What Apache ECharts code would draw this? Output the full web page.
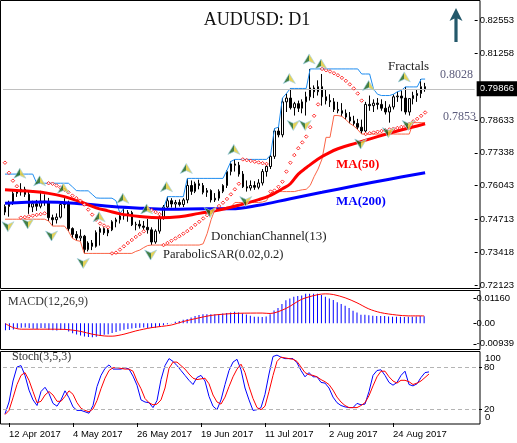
<!DOCTYPE html>
<html><head><meta charset="utf-8">
<script src="https://cdn.jsdelivr.net/npm/echarts@6/dist/echarts.min.js"></script>
<style>html,body{margin:0;padding:0;background:#fff}#c{width:517px;height:443px}</style>
</head><body><div id="c"></div>
<script>
const dates = ['11 Apr 2017','12 Apr 2017','13 Apr 2017','14 Apr 2017','17 Apr 2017','18 Apr 2017','19 Apr 2017','20 Apr 2017','21 Apr 2017','24 Apr 2017','25 Apr 2017','26 Apr 2017','27 Apr 2017','28 Apr 2017',
'1 May 2017','2 May 2017','3 May 2017','4 May 2017','5 May 2017','8 May 2017','9 May 2017','10 May 2017','11 May 2017','12 May 2017','15 May 2017','16 May 2017','17 May 2017','18 May 2017','19 May 2017','22 May 2017','23 May 2017','24 May 2017','25 May 2017','26 May 2017','29 May 2017','30 May 2017','31 May 2017',
'1 Jun 2017','2 Jun 2017','5 Jun 2017','6 Jun 2017','7 Jun 2017','8 Jun 2017','9 Jun 2017','12 Jun 2017','13 Jun 2017','14 Jun 2017','15 Jun 2017','16 Jun 2017','19 Jun 2017','20 Jun 2017','21 Jun 2017','22 Jun 2017','23 Jun 2017','26 Jun 2017','27 Jun 2017','28 Jun 2017','29 Jun 2017','30 Jun 2017',
'3 Jul 2017','4 Jul 2017','5 Jul 2017','6 Jul 2017','7 Jul 2017','10 Jul 2017','11 Jul 2017','12 Jul 2017','13 Jul 2017','14 Jul 2017','17 Jul 2017','18 Jul 2017','19 Jul 2017','20 Jul 2017','21 Jul 2017','24 Jul 2017','25 Jul 2017','26 Jul 2017','27 Jul 2017','28 Jul 2017','31 Jul 2017',
'1 Aug 2017','2 Aug 2017','3 Aug 2017','4 Aug 2017','7 Aug 2017','8 Aug 2017','9 Aug 2017','10 Aug 2017','11 Aug 2017','14 Aug 2017','15 Aug 2017','16 Aug 2017','17 Aug 2017','18 Aug 2017','21 Aug 2017','22 Aug 2017','23 Aug 2017','24 Aug 2017','25 Aug 2017','28 Aug 2017','29 Aug 2017','30 Aug 2017','31 Aug 2017',
'1 Sep 2017','4 Sep 2017','5 Sep 2017','6 Sep 2017'];
const tickLabels = ['12 Apr 2017','4 May 2017','26 May 2017','19 Jun 2017','11 Jul 2017','2 Aug 2017','24 Aug 2017'];

const opens = [0.7500,0.7522,0.7535,0.7574,0.7580,0.7590,0.7570,0.7520,0.7533,0.7523,
0.7543,0.7540,0.7478,0.7470,0.7480,0.7530,0.7536,0.7435,0.7412,0.7398,
0.7405,0.7352,0.7378,0.7365,0.7420,0.7435,0.7418,0.7430,0.7462,0.7470,
0.7485,0.7490,0.7498,0.7450,0.7452,0.7445,0.7440,0.7430,0.7382,0.7425,
0.7480,0.7520,0.7545,0.7532,0.7538,0.7530,0.7548,0.7605,0.7582,0.7612,
0.7605,0.7578,0.7585,0.7548,0.7555,0.7582,0.7605,0.7660,0.7690,0.7685,
0.7650,0.7600,0.7595,0.7605,0.7598,0.7615,0.7660,0.7680,0.7720,0.7820,
0.7805,0.7935,0.7950,0.7912,0.7928,0.7910,0.7935,0.7955,0.7990,0.7975,
0.7995,0.7955,0.7940,0.7935,0.7905,0.7900,0.7890,0.7875,0.7860,0.7850,
0.7835,0.7820,0.7925,0.7920,0.7930,0.7925,0.7910,0.7895,0.7915,0.7955,
0.7958,0.7950,0.7895,0.7948,0.7960,0.7968,0.7995];
const highs = [0.7530,0.7545,0.7582,0.7590,0.7614,0.7600,0.7585,0.7545,0.7548,0.7584,
0.7570,0.7556,0.7490,0.7495,0.7540,0.7555,0.7545,0.7440,0.7425,0.7432,
0.7410,0.7385,0.7390,0.7428,0.7442,0.7440,0.7438,0.7468,0.7478,0.7495,
0.7515,0.7508,0.7505,0.7462,0.7468,0.7465,0.7473,0.7440,0.7432,0.7488,
0.7528,0.7561,0.7555,0.7548,0.7550,0.7555,0.7633,0.7625,0.7620,0.7628,
0.7615,0.7595,0.7590,0.7575,0.7590,0.7610,0.7665,0.7700,0.7708,0.7698,
0.7662,0.7625,0.7625,0.7622,0.7630,0.7670,0.7688,0.7725,0.7830,0.7835,
0.7950,0.7968,0.7988,0.7935,0.7940,0.7945,0.7975,0.8065,0.8000,0.8020,
0.8045,0.7985,0.7965,0.7950,0.7935,0.7930,0.7905,0.7895,0.7880,0.7868,
0.7865,0.7935,0.7960,0.7945,0.7950,0.7945,0.7938,0.7925,0.7965,0.7975,
0.7980,0.7994,0.7950,0.7975,0.7985,0.8025,0.8010];
const lows = [0.7488,0.7482,0.7528,0.7560,0.7565,0.7560,0.7493,0.7500,0.7505,0.7515,
0.7525,0.7465,0.7445,0.7455,0.7475,0.7515,0.7425,0.7397,0.7388,0.7385,
0.7337,0.7345,0.7350,0.7360,0.7368,0.7410,0.7405,0.7425,0.7440,0.7455,
0.7470,0.7462,0.7445,0.7428,0.7435,0.7430,0.7415,0.7370,0.7375,0.7415,
0.7470,0.7512,0.7518,0.7515,0.7522,0.7520,0.7535,0.7568,0.7575,0.7590,
0.7570,0.7560,0.7538,0.7540,0.7545,0.7575,0.7595,0.7645,0.7660,0.7640,
0.7595,0.7581,0.7585,0.7588,0.7590,0.7605,0.7640,0.7670,0.7710,0.7795,
0.7795,0.7895,0.7905,0.7881,0.7895,0.7890,0.7881,0.7940,0.7950,0.7960,
0.7920,0.7925,0.7915,0.7895,0.7890,0.7878,0.7865,0.7850,0.7840,0.7825,
0.7808,0.7815,0.7900,0.7895,0.7905,0.7900,0.7885,0.7853,0.7905,0.7935,
0.7898,0.7885,0.7881,0.7925,0.7935,0.7950,0.7975];
const closes = [0.7522,0.7535,0.7574,0.7580,0.7590,0.7570,0.7520,0.7533,0.7523,0.7543,
0.7540,0.7478,0.7470,0.7480,0.7530,0.7536,0.7435,0.7412,0.7398,0.7405,
0.7352,0.7378,0.7365,0.7420,0.7435,0.7418,0.7430,0.7462,0.7470,0.7485,
0.7490,0.7498,0.7450,0.7452,0.7445,0.7440,0.7430,0.7382,0.7425,0.7480,
0.7520,0.7545,0.7532,0.7538,0.7530,0.7548,0.7605,0.7582,0.7612,0.7605,
0.7578,0.7585,0.7548,0.7555,0.7582,0.7605,0.7660,0.7690,0.7685,0.7650,
0.7600,0.7595,0.7605,0.7598,0.7615,0.7660,0.7680,0.7720,0.7820,0.7805,
0.7935,0.7950,0.7912,0.7928,0.7910,0.7935,0.7955,0.7990,0.7975,0.7995,
0.7955,0.7940,0.7935,0.7905,0.7900,0.7890,0.7875,0.7860,0.7850,0.7835,
0.7820,0.7925,0.7920,0.7930,0.7925,0.7910,0.7895,0.7915,0.7955,0.7958,
0.7950,0.7895,0.7948,0.7960,0.7968,0.7995,0.79866];

// [bar index, value] points
const ma50 = [[0,0.7588],[7,0.7581],[11,0.7574],[15,0.7561],[19,0.7541],[23,0.7517],[26,0.7505],[29,0.7493],[34,0.7483],[39,0.7478],[44,0.7482],[49,0.7495],[54,0.7508],[59,0.7527],[64,0.7549],[67,0.7566],[70,0.7592],[72,0.7612],[74,0.7650],[76,0.7675],[79,0.7710],[81,0.7728],[84,0.7750],[89,0.7774],[94,0.7798],[99,0.7820],[104,0.7840],[106,0.7848]];
const ma200 = [[0,0.7535],[10,0.7540],[20,0.7532],[27,0.7522],[35,0.7515],[42,0.7511],[50,0.7513],[57,0.7513],[64,0.7527],[72,0.7553],[80,0.7578],[88,0.7603],[97,0.7630],[106,0.7655]];

const donchianUp = [0.7650,0.7650,0.7650,0.7650,0.7650,0.7650,0.7650,0.7650,0.7614,0.7614,
0.7614,0.7614,0.7614,0.7614,0.7614,0.7614,0.7614,0.7600,0.7585,0.7584,
0.7584,0.7584,0.7570,0.7556,0.7555,0.7555,0.7555,0.7555,0.7545,0.7495,
0.7515,0.7515,0.7515,0.7515,0.7515,0.7515,0.7515,0.7515,0.7515,0.7515,
0.7515,0.7561,0.7561,0.7561,0.7561,0.7561,0.7633,0.7633,0.7633,0.7633,
0.7633,0.7633,0.7633,0.7633,0.7633,0.7633,0.7665,0.7700,0.7708,0.7708,
0.7708,0.7708,0.7708,0.7708,0.7708,0.7708,0.7708,0.7725,0.7830,0.7835,
0.7950,0.7968,0.7988,0.7988,0.7988,0.7988,0.7988,0.8065,0.8065,0.8065,
0.8065,0.8065,0.8065,0.8065,0.8065,0.8065,0.8065,0.8065,0.8065,0.8065,
0.8045,0.8045,0.8045,0.7985,0.7965,0.7960,0.7960,0.7960,0.7965,0.7975,
0.7980,0.7994,0.7994,0.7994,0.7994,0.8025,0.8025];
const donchianLow = [0.7472,0.7472,0.7472,0.7472,0.7472,0.7472,0.7472,0.7472,0.7472,0.7472,
0.7472,0.7465,0.7445,0.7445,0.7445,0.7445,0.7425,0.7397,0.7388,0.7385,
0.7337,0.7337,0.7337,0.7337,0.7337,0.7337,0.7337,0.7337,0.7337,0.7337,
0.7337,0.7337,0.7337,0.7345,0.7350,0.7360,0.7368,0.7370,0.7370,0.7370,
0.7370,0.7370,0.7370,0.7370,0.7370,0.7370,0.7370,0.7370,0.7370,0.7370,
0.7375,0.7415,0.7470,0.7512,0.7515,0.7515,0.7520,0.7520,0.7538,0.7538,
0.7538,0.7538,0.7538,0.7538,0.7538,0.7540,0.7545,0.7575,0.7581,0.7581,
0.7581,0.7581,0.7581,0.7581,0.7585,0.7588,0.7590,0.7605,0.7640,0.7670,
0.7710,0.7795,0.7795,0.7881,0.7881,0.7878,0.7865,0.7850,0.7840,0.7825,
0.7808,0.7808,0.7808,0.7808,0.7808,0.7808,0.7808,0.7808,0.7808,0.7808,
0.7808,0.7808,0.7808,0.7853,0.7853,0.7853,0.7853];
const sar = [0.7695,0.7655,0.7624,0.7602,0.7478,0.7480,0.7483,0.7486,0.7489,0.7492,
0.7495,0.7614,0.7612,0.7605,0.7597,0.7588,0.7578,0.7565,0.7555,0.7545,
0.7530,0.7510,0.7490,0.7470,0.7455,0.7447,0.7440,0.7337,0.7340,0.7352,
0.7365,0.7378,0.7390,0.7402,0.7413,0.7424,0.7515,0.7508,0.7500,0.7492,
0.7370,0.7378,0.7387,0.7396,0.7405,0.7415,0.7425,0.7437,0.7450,0.7462,
0.7475,0.7488,0.7500,0.7512,0.7524,0.7537,0.7552,0.7570,0.7590,0.7612,
0.7708,0.7705,0.7702,0.7699,0.7696,0.7693,0.7690,0.7581,0.7585,0.7600,
0.7620,0.7660,0.7695,0.7725,0.7752,0.7775,0.7798,0.7835,0.7880,0.7925,
0.8065,0.8060,0.8055,0.8048,0.8040,0.8030,0.8018,0.8004,0.7988,0.7968,
0.7940,0.7808,0.7811,0.7814,0.7817,0.7820,0.7823,0.7826,0.7829,0.7832,
0.7836,0.7840,0.7848,0.7858,0.7868,0.7880,0.7893];
const fractalsUp = [[4,0.7614],[9,0.7584],[15,0.7555],[24,0.7442],[30,0.7515],[36,0.7473],[41,0.7561],[46,0.7633],[58,0.7708],[72,0.7988],[77,0.8065],[80,0.8045],[92,0.7960],[101,0.7994]];
const fractalsDown = [[1,0.7482],[6,0.7493],[12,0.7445],[20,0.7337],[37,0.7370],[52,0.7538],[61,0.7581],[73,0.7881],[76,0.7881],[90,0.7808],[97,0.7853],[102,0.7881]];

const macdMain = [-0.0032,-0.0031,-0.0028,-0.0024,-0.0020,-0.0019,-0.0022,-0.0025,-0.0026,-0.0022,
-0.0023,-0.0029,-0.0032,-0.0033,-0.0031,-0.0030,-0.0038,-0.0046,-0.0051,-0.0056,
-0.0061,-0.0063,-0.0064,-0.0062,-0.0058,-0.0053,-0.0050,-0.0045,-0.0040,-0.0034,
-0.0029,-0.0026,-0.0024,-0.0022,-0.0020,-0.0019,-0.0021,-0.0022,-0.0020,-0.0015,
-0.0009,-0.0004,0.0001,0.0007,0.0011,0.0016,0.0020,0.0027,0.0033,0.0038,
0.0041,0.0042,0.0042,0.0042,0.0043,0.0045,0.0047,0.0050,0.0053,0.0050,
0.0045,0.0040,0.0035,0.0030,0.0030,0.0029,0.0031,0.0042,0.0059,0.0070,
0.0088,0.0106,0.0114,0.0122,0.0125,0.0127,0.0135,0.0136,0.0135,0.0135,
0.0130,0.0122,0.0114,0.0107,0.0096,0.0088,0.0080,0.0070,0.0057,0.0049,
0.0039,0.0039,0.0037,0.0035,0.0034,0.0033,0.0033,0.0031,0.0030,0.0030,
0.0030,0.0029,0.0030,0.0030,0.0031,0.0033,0.0032];
const macdSignal = [[0,-0.0002],[2,-0.0020],[4,-0.0027],[10,-0.0027],[15,-0.0028],[19,-0.0037],[22,-0.0050],[25,-0.0058],[27,-0.0059],[30,-0.0050],[33,-0.0035],[37,-0.0020],[42,-0.0008],[45,0.0008],[49,0.0025],[52,0.0036],[56,0.0043],[59,0.0046],[65,0.0047],[67,0.0045],[71,0.0068],[75,0.0110],[79,0.0131],[81,0.0135],[83,0.0132],[86,0.0117],[89,0.0094],[92,0.0066],[95,0.0049],[99,0.0038],[102,0.0034],[106,0.0034]];
const stochK = [13,30,60,80,82,68,47,33,25,45,51,42,28,24,33,46,36,23,18,18,
16,14,25,52,68,78,83,77,77,77,79,77,67,54,33,30,29,22,32,62,
82,92,88,82,75,68,61,55,65,68,60,38,24,19,33,55,75,87,91,76,
50,33,18,19,22,41,70,95,97,94,92,92,92,86,75,66,72,66,66,58,
57,50,37,29,25,23,22,22,28,26,27,45,68,75,76,68,58,54,58,68,
74,55,53,56,65,72,73];
const stochD = [12,18,36,55,68,72,61,45,29,31,40,45,40,31,31,38,46,41,29,21,
18,16,20,32,49,64,75,79,79,78,77,77,74,60,49,35,29,26,27,33,
50,78,87,87,82,77,70,64,62,63,64,56,40,30,27,37,52,66,77,84,
72,52,35,22,19,24,45,68,88,94,93,92,91,88,80,72,69,68,66,62,
59,55,47,37,30,25,22,22,22,25,29,39,53,66,74,74,66,60,57,61,
61,59,55,57,60,65,70];
const priceTicks = [0.82553,0.81258,0.78633,0.77338,0.76043,0.74713,0.73418,0.72123];
const macdTicks = [0.0116,0,-0.00939];
const stochTicks = [20,80];
const stochEdgeLabels = ['100','0'];
const lastClose = closes[closes.length - 1];

const SLOTS = 119; // bars plus right-hand empty shift
const cats = dates.slice();
for (let k = dates.length; k < SLOTS; k++) cats.push('_' + k);
const candles = dates.map((d, i) => [opens[i], closes[i], lows[i], highs[i]]);

const SANS = 'Liberation Sans';
const isTick = (idx, val) => tickLabels.indexOf(val) >= 0;
const gL = 3, gW = 476;
const fracGrad = {type:'linear',x:0,y:0,x2:1,y2:0,colorStops:[{offset:0,color:'#176017'},{offset:0.5,color:'#176017'},{offset:0.5,color:'#e0c830'},{offset:1,color:'#e0c830'}]};

function xAx(gi, show) {
  return {type:'category', gridIndex:gi, data:cats, boundaryGap:true,
    axisLine:{show:false},
    axisTick:{show:show, interval:isTick, alignWithLabel:true, length:4, lineStyle:{color:'#000'}},
    axisLabel:{show:show, interval:isTick, formatter:v=>v, align:'left', color:'#000', fontSize:9.5, fontFamily:SANS, margin:6},
    splitLine:{show:false}};
}

const option = {
  animation:false,
  grid:[
    {left:gL, width:gW, top:1, height:287},
    {left:gL + 0.5, width:gW, top:291, height:58},
    {left:gL, width:gW, top:353, height:70}
  ],
  xAxis:[xAx(0,false), xAx(1,false), xAx(2,true)],
  yAxis:[
    {type:'value', gridIndex:0, position:'right', min:0.720054, max:0.833304,
      axisLine:{show:false}, splitLine:{show:false},
      axisTick:{show:true, customValues:priceTicks, length:3, lineStyle:{color:'#000'}},
      axisLabel:{customValues:priceTicks, formatter:v=>v.toFixed(5), color:'#000', fontSize:9.5, fontFamily:SANS, margin:5}},
    {type:'value', gridIndex:1, position:'right', min:-0.011783, max:0.014810,
      axisLine:{show:false}, splitLine:{show:false},
      axisTick:{show:true, customValues:macdTicks, length:3, lineStyle:{color:'#000'}},
      axisLabel:{customValues:macdTicks, formatter:v=>v===0?'0.00':v.toFixed(5), color:'#000', fontSize:9.5, fontFamily:SANS, margin:3}},
    {type:'value', gridIndex:2, position:'right', min:0, max:100,
      axisLine:{show:false}, splitLine:{show:false},
      axisTick:{show:true, customValues:stochTicks, length:3, lineStyle:{color:'#000'}},
      axisLabel:{customValues:stochTicks, color:'#000', fontSize:9.5, fontFamily:SANS, margin:5}}
  ],
  series:[
    {type:'candlestick', name:'AUDUSD', xAxisIndex:0, yAxisIndex:0, data:candles, barWidth:2, z:2,
      itemStyle:{color:'#fff', color0:'#000', borderColor:'#000', borderColor0:'#000', borderColorDoji:'#000', borderWidth:1},
      markLine:{symbol:['none','none'], silent:true, animation:false, precision:5,
        data:[{yAxis: lastClose}],
        lineStyle:{color:'#c0c0c0', width:1, type:'solid'},
        label:{show:true, position:'end', formatter:()=>lastClose.toFixed(5), backgroundColor:'#000', color:'#fff', fontSize:9.5, fontFamily:SANS, padding:[3,4,2,3], distance:2}}},
    {type:'line', name:'Donchian upper', data:donchianUp, showSymbol:false, silent:true, z:3, lineStyle:{color:'#1e8cf0', width:1}},
    {type:'line', name:'Donchian lower', data:donchianLow, showSymbol:false, silent:true, z:3, lineStyle:{color:'#fa6446', width:1}},
    {type:'line', name:'MA(200)', data:ma200, smooth:0.4, showSymbol:false, silent:true, z:4, lineStyle:{color:'#0000ff', width:3}},
    {type:'line', name:'MA(50)', data:ma50, smooth:0.4, showSymbol:false, silent:true, z:4, lineStyle:{color:'#ff0000', width:3}},
    {type:'scatter', name:'SAR', data:sar, symbol:'diamond', symbolSize:3.5, silent:true, z:5,
      itemStyle:{color:'#ffffff', borderColor:'#ff0000', borderWidth:1}},
    {type:'scatter', name:'Fractals up', data:fractalsUp, symbol:'path://M6,0 L12,11 L6,8 L0,11 Z', symbolSize:[12,10], symbolOffset:[-1,-10], silent:true, z:6,
      itemStyle:{color:fracGrad, borderColor:'#9fd0ea', borderWidth:0.8}},
    {type:'scatter', name:'Fractals down', data:fractalsDown, symbol:'path://M0,0 L6,3 L12,0 L6,11 Z', symbolSize:[12,10], symbolOffset:[-1,10], silent:true, z:6,
      itemStyle:{color:fracGrad, borderColor:'#9fd0ea', borderWidth:0.8}},
    {type:'bar', name:'MACD', xAxisIndex:1, yAxisIndex:1, data:macdMain, barWidth:1, silent:true, itemStyle:{color:'#0000ff'}},
    {type:'line', name:'Signal', xAxisIndex:1, yAxisIndex:1, data:macdSignal, smooth:0.3, showSymbol:false, silent:true, z:4, lineStyle:{color:'#ff0000', width:1}},
    {type:'line', name:'%K', xAxisIndex:2, yAxisIndex:2, data:stochK, showSymbol:false, silent:true, z:3, lineStyle:{color:'#0000ff', width:1},
      markLine:{symbol:['none','none'], silent:true, animation:false, label:{show:false},
        lineStyle:{color:'#b4b4b4', width:1, type:[4,3]}, data:[{yAxis:20},{yAxis:80}]}},
    {type:'line', name:'%D', xAxisIndex:2, yAxisIndex:2, data:stochD, showSymbol:false, silent:true, z:4, lineStyle:{color:'#ff0000', width:1}}
  ],
  graphic:[
    {type:'rect', shape:{x:0.5,y:0.5,width:479.5,height:288}, style:{fill:null, stroke:'#000', lineWidth:1}, z:50, silent:true},
    {type:'rect', shape:{x:0.5,y:290.5,width:479.5,height:59}, style:{fill:null, stroke:'#000', lineWidth:1}, z:50, silent:true},
    {type:'rect', shape:{x:0.5,y:351.5,width:479.5,height:72.5}, style:{fill:null, stroke:'#000', lineWidth:1}, z:50, silent:true},
    {type:'text', x:485, y:358.5, style:{text:stochEdgeLabels[0], fill:'#000', font:'9.5px "Liberation Sans"', verticalAlign:'middle'}, z:60},
    {type:'text', x:485, y:417, style:{text:stochEdgeLabels[1], fill:'#000', font:'9.5px "Liberation Sans"', verticalAlign:'middle'}, z:60},
    {type:'text', x:257, y:20, style:{text:'AUDUSD: D1', fill:'#111', font:'18px "Liberation Serif"', align:'center', verticalAlign:'middle'}, z:60},
    {type:'polygon', shape:{points:[[456,8],[462.5,21],[457.6,18.5],[457.6,42],[454.4,42],[454.4,18.5],[449.5,21]]}, style:{fill:'#24596b'}, z:60},
    {type:'text', x:388, y:67, style:{text:'Fractals', fill:'#222', font:'13px "Liberation Serif"', verticalAlign:'middle'}, z:60},
    {type:'text', x:440, y:75, style:{text:'0.8028', fill:'#5c5c7c', font:'12px "Liberation Serif"', verticalAlign:'middle'}, z:60},
    {type:'text', x:443, y:117, style:{text:'0.7853', fill:'#5c5c7c', font:'12px "Liberation Serif"', verticalAlign:'middle'}, z:60},
    {type:'text', x:336, y:165, style:{text:'MA(50)', fill:'#ff0000', font:'bold 13px "Liberation Serif"', verticalAlign:'middle'}, z:60},
    {type:'text', x:336, y:201.5, style:{text:'MA(200)', fill:'#0000ff', font:'bold 13px "Liberation Serif"', verticalAlign:'middle'}, z:60},
    {type:'text', x:211, y:237, style:{text:'DonchianChannel(13)', fill:'#222', font:'13px "Liberation Serif"', verticalAlign:'middle'}, z:60},
    {type:'text', x:163, y:255, style:{text:'ParabolicSAR(0.02,0.2)', fill:'#222', font:'12.5px "Liberation Serif"', verticalAlign:'middle'}, z:60},
    {type:'text', x:8, y:302, style:{text:'MACD(12,26,9)', fill:'#333', font:'12px "Liberation Serif"', verticalAlign:'middle'}, z:60},
    {type:'text', x:12, y:357, style:{text:'Stoch(3,5,3)', fill:'#333', font:'12px "Liberation Serif"', verticalAlign:'middle'}, z:60}
  ]
};
const chart = echarts.init(document.getElementById('c'), null, {renderer:'canvas'});
chart.setOption(option);
</script>
</body></html>
